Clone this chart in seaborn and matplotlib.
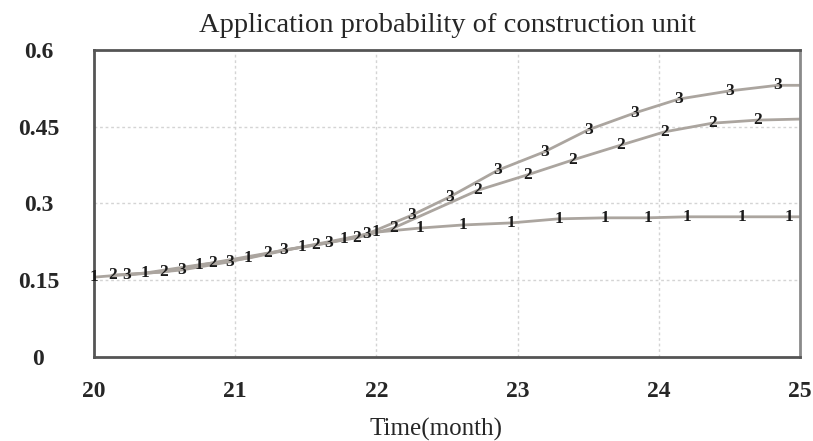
import pandas as pd
import matplotlib
matplotlib.use("Agg")
import matplotlib.pyplot as plt
import seaborn as sns

# marker positions (month, probability), last point is the line end
t1 = [20.0, 20.36, 20.74, 21.09, 21.47, 21.77, 22.0, 22.31, 22.61, 22.95, 23.29, 23.62, 23.92, 24.2, 24.59, 24.92, 25.0]
p1 = [0.156, 0.164, 0.180, 0.193, 0.215, 0.231, 0.244, 0.252, 0.258, 0.262, 0.270, 0.272, 0.272, 0.274, 0.274, 0.274, 0.274]

t2 = [20.13, 20.49, 20.84, 21.23, 21.57, 21.86, 22.12, 22.72, 23.07, 23.39, 23.73, 24.04, 24.38, 24.70, 25.0]
p2 = [0.160, 0.166, 0.184, 0.203, 0.219, 0.233, 0.252, 0.326, 0.356, 0.385, 0.414, 0.440, 0.457, 0.463, 0.465]

t3 = [20.23, 20.62, 20.96, 21.34, 21.66, 21.93, 22.25, 22.52, 22.86, 23.19, 23.50, 23.83, 24.14, 24.50, 24.84, 25.0]
p3 = [0.160, 0.170, 0.186, 0.209, 0.223, 0.240, 0.277, 0.313, 0.365, 0.401, 0.444, 0.477, 0.504, 0.520, 0.531, 0.531]

series_names = ["1", "2", "3"]
x_ticks = [20, 21, 22, 23, 24, 25]
y_ticks = [0, 0.15, 0.3, 0.45, 0.6]
y_tick_labels = ["0", "0.15", "0.3", "0.45", "0.6"]

frames = []
for name, t, p in zip(series_names, [t1, t2, t3], [p1, p2, p3]):
    frames.append(pd.DataFrame({"time": t, "prob": p, "series": name}))
df = pd.concat(frames, ignore_index=True)

sns.set_style("white")
plt.rcParams["font.family"] = ["Liberation Serif", "DejaVu Serif"]

fig = plt.figure(figsize=(8.13, 4.41), dpi=100)
ax = fig.add_axes([0.1156, 0.1905, 0.8684, 0.6961])

line_grey = "#aba59f"
sns.lineplot(data=df, x="time", y="prob", hue="series",
             palette={n: line_grey for n in series_names},
             estimator=None, sort=False, legend=False, linewidth=2.0, ax=ax)

# series number written on each point except the line end
for name, t, p in zip(series_names, [t1, t2, t3], [p1, p2, p3]):
    for x, y in zip(t[:-1], p[:-1]):
        ax.text(x, y, name, ha="center", va="center", fontsize=12.5,
                fontweight="bold", color="#1a1a1a", zorder=5)

ax.set_xlim(20, 25)
ax.set_ylim(0, 0.6)
ax.set_xticks(x_ticks)
ax.set_xticklabels([str(v) for v in x_ticks], fontsize=17, fontweight="bold")
ax.set_yticks(y_ticks)
ax.set_yticklabels(y_tick_labels, fontsize=17, fontweight="bold", ha="center")
ax.tick_params(axis="x", length=0, pad=17)
ax.tick_params(axis="y", length=0, pad=40)

# dotted interior grid
for v in x_ticks[1:-1]:
    ax.axvline(v, color="#d4d4d4", linestyle=(0, (2, 2)), linewidth=1.0, zorder=0)
for v in y_ticks[1:-1]:
    ax.axhline(v, color="#d4d4d4", linestyle=(0, (2, 2)), linewidth=1.0, zorder=0)

for side in ["left", "bottom", "top"]:
    ax.spines[side].set_color("#555555")
    ax.spines[side].set_linewidth(2.0)
ax.spines["right"].set_color("#8a8a8a")
ax.spines["right"].set_linewidth(2.0)

ax.set_title("Application probability of construction unit", fontsize=20.5, pad=13)
ax.set_xlabel("Time(month)", fontsize=18, labelpad=8)
ax.xaxis.set_label_coords(0.484, -0.2)
ax.xaxis.label.set_va("top")
ax.set_ylabel("")

plt.savefig("out.png", dpi=100)
